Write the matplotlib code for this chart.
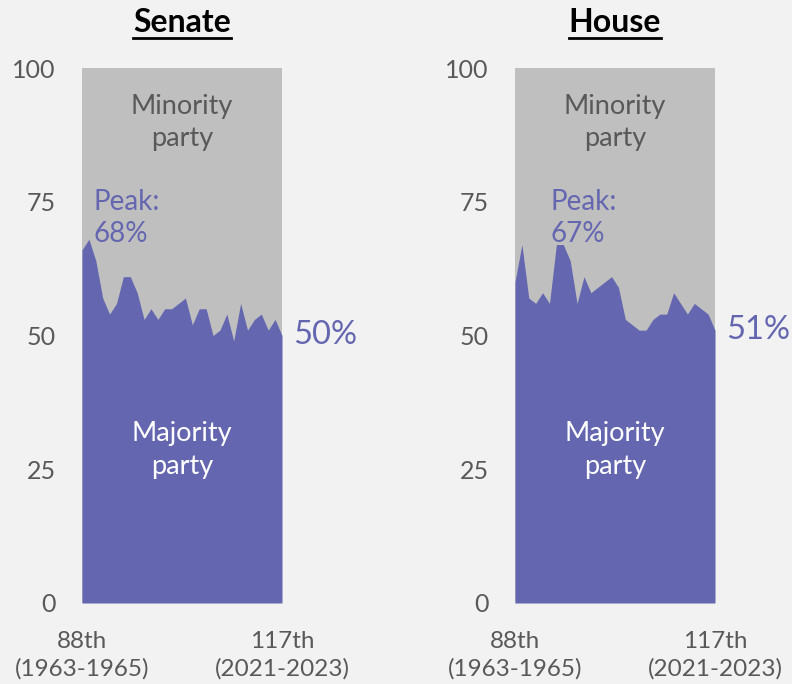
import matplotlib
matplotlib.use('Agg')
import matplotlib.pyplot as plt

# Share of seats held by the majority party, 88th..117th Congress
congress_idx = list(range(30))
senate_majority = [66, 68, 64, 57, 54, 56, 61, 61, 58, 53, 55, 53, 55, 55, 56,
                   57, 52, 55, 55, 50, 51, 54, 49, 56, 51, 53, 54, 51, 53, 50]
house_majority = [60, 67, 57, 56, 58, 56, 67, 67, 64, 56, 61, 58, 59, 60, 61,
                  59, 53, 52, 51, 51, 53, 54, 54, 58, 56, 54, 56, 55, 54, 51]
chambers = ['Senate', 'House']
peaks = ['68%', '67%']
latest = ['50%', '51%']
y_ticks = [0, 25, 50, 75, 100]
x_ticks = ['88th\n(1963-1965)', '117th\n(2021-2023)']

BG = '#f2f2f2'
MAJ = '#6466b0'
MIN = '#bfbfbf'
TXT = '#595959'
FONT = 'Lato'

plt.rcParams['font.family'] = [FONT, 'DejaVu Sans']

fig = plt.figure(figsize=(7.92, 6.84), dpi=100)
fig.patch.set_facecolor(BG)

lefts = [82 / 792, 515 / 792]
peak_x = [1.6, 5.1]

for i, (name, vals) in enumerate(zip(chambers, [senate_majority, house_majority])):
    ax = fig.add_axes([lefts[i], 81 / 684, 200 / 792, 535 / 684])
    ax.set_facecolor(MIN)
    ax.fill_between(congress_idx, 0, vals, color=MAJ, lw=0)
    ax.set_xlim(0, 29)
    ax.set_ylim(0, 100)
    for s in ax.spines.values():
        s.set_visible(False)
    ax.set_yticks(y_ticks)
    ax.tick_params(axis='y', length=0, pad=19, labelsize=18, labelcolor=TXT)
    ax.set_xticks([0, 29])
    ax.set_xticklabels(x_ticks, fontsize=17.5, color=TXT, linespacing=1.35)
    ax.tick_params(axis='x', length=0, pad=20)

    ax.text(14.5, 92.8, 'Minority', ha='center', va='center', fontsize=19.5, color=TXT)
    ax.text(14.5, 86.8, 'party', ha='center', va='center', fontsize=19.5, color=TXT)
    ax.text(14.5, 31.6, 'Majority', ha='center', va='center', fontsize=19.5, color='white')
    ax.text(14.5, 25.6, 'party', ha='center', va='center', fontsize=19.5, color='white')
    ax.text(peak_x[i], 75.0, 'Peak:', ha='left', va='center', fontsize=20, color=MAJ)
    ax.text(peak_x[i], 69.0, peaks[i], ha='left', va='center', fontsize=20, color=MAJ)
    ax.text(30.6, vals[-1], latest[i], ha='left', va='center', fontsize=23.5,
            color=MAJ, clip_on=False)

    t = ax.text(0.5, 1.0 + 46 / 535, name, transform=ax.transAxes, ha='center',
                va='center', fontsize=23, fontweight='bold', color='black')

# underline the titles
fig.canvas.draw()
r = fig.canvas.get_renderer()
for t in fig.findobj(matplotlib.text.Text):
    if t.get_text() in chambers:
        bb = t.get_window_extent(renderer=r).transformed(fig.transFigure.inverted())
        fig.add_artist(plt.Line2D([bb.x0, bb.x1], [bb.y0 - 0.002, bb.y0 - 0.002],
                                  transform=fig.transFigure, color='black', lw=2))

fig.savefig('out.png', dpi=100, facecolor=BG)
